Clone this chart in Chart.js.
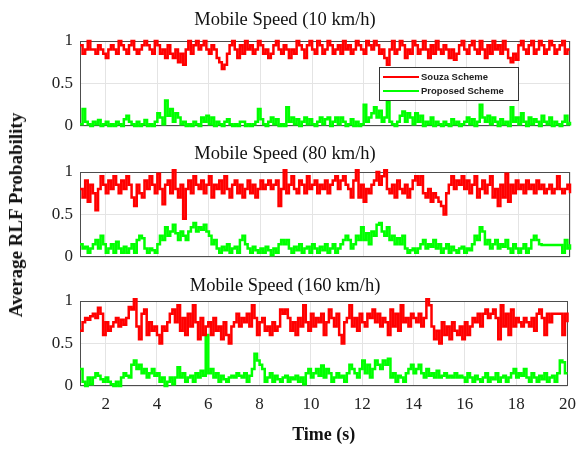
<!DOCTYPE html>
<html>
<head>
<meta charset="utf-8">
<script src="https://cdn.jsdelivr.net/npm/chart.js@4.4.1/dist/chart.umd.min.js"></script>
<style>
  body { margin: 0; background: #fff; }
  #wrap { position: relative; width: 584px; height: 449px; overflow: hidden; }
  #wrap canvas { position: absolute; left: 0; }
  #ylabel {
    position: absolute; left: 16px; top: 215px;
    transform: translate(-50%, -50%) rotate(-90deg);
    font: bold 19px "Liberation Serif", "Times New Roman", serif;
    color: #111; white-space: nowrap;
  }
</style>
</head>
<body>
<div id="wrap">
  <canvas id="p1" width="584" height="146" style="top:0px"></canvas>
  <canvas id="p2" width="584" height="147" style="top:130px"></canvas>
  <canvas id="p3" width="584" height="187" style="top:262px"></canvas>
  <div id="ylabel">Average RLF Probability</div>
</div>
<script>
// time axis (s)
const time = [
  1,1.1,1.2,1.3,1.4,1.5,1.6,1.7,1.8,1.9,
  2,2.1,2.2,2.3,2.4,2.5,2.6,2.7,2.8,2.9,
  3,3.1,3.2,3.3,3.4,3.5,3.6,3.7,3.8,3.9,
  4,4.1,4.2,4.3,4.4,4.5,4.6,4.7,4.8,4.9,
  5,5.1,5.2,5.3,5.4,5.5,5.6,5.7,5.8,5.9,
  6,6.1,6.2,6.3,6.4,6.5,6.6,6.7,6.8,6.9,
  7,7.1,7.2,7.3,7.4,7.5,7.6,7.7,7.8,7.9,
  8,8.1,8.2,8.3,8.4,8.5,8.6,8.7,8.8,8.9,
  9,9.1,9.2,9.3,9.4,9.5,9.6,9.7,9.8,9.9,
  10,10.1,10.2,10.3,10.4,10.5,10.6,10.7,10.8,10.9,
  11,11.1,11.2,11.3,11.4,11.5,11.6,11.7,11.8,11.9,
  12,12.1,12.2,12.3,12.4,12.5,12.6,12.7,12.8,12.9,
  13,13.1,13.2,13.3,13.4,13.5,13.6,13.7,13.8,13.9,
  14,14.1,14.2,14.3,14.4,14.5,14.6,14.7,14.8,14.9,
  15,15.1,15.2,15.3,15.4,15.5,15.6,15.7,15.8,15.9,
  16,16.1,16.2,16.3,16.4,16.5,16.6,16.7,16.8,16.9,
  17,17.1,17.2,17.3,17.4,17.5,17.6,17.7,17.8,17.9,
  18,18.1,18.2,18.3,18.4,18.5,18.6,18.7,18.8,18.9,
  19,19.1,19.2,19.3,19.4,19.5,19.6,19.7,19.8,19.9,
  20
];

const xTicks = [2, 4, 6, 8, 10, 12, 14, 16, 18, 20];
const yTicks = [0, 0.5, 1];
const seriesNames = ['Souza Scheme', 'Proposed Scheme'];
const panelTitles = ['Mobile Speed (10 km/h)', 'Mobile Speed (80 km/h)', 'Mobile Speed (160 km/h)'];

// 10 km/h
const souza10 = [
  0.95,0.85,0.9,1.0,0.9,0.9,0.85,0.95,0.9,0.85,
  0.8,0.9,0.95,0.9,0.85,1.0,0.95,0.9,0.85,0.95,
  1.0,0.9,0.85,0.9,0.95,1.0,0.95,0.9,0.85,1.0,
  0.95,0.85,0.9,0.8,0.95,0.85,0.8,0.9,0.75,0.85,
  0.72,0.9,1.0,0.85,0.95,1.0,0.9,0.95,1.0,0.9,
  0.85,0.95,0.9,0.8,0.75,0.67,0.72,0.85,0.95,1.0,
  0.9,0.8,0.95,0.85,1.0,0.9,0.95,0.85,0.9,1.0,
  0.95,0.85,0.9,0.8,0.85,0.95,1.0,0.9,0.85,0.95,
  0.9,0.8,0.9,0.85,1.0,0.95,0.9,0.8,0.95,1.0,
  0.9,0.85,1.0,0.95,0.85,0.9,1.0,0.95,0.85,0.9,
  0.95,0.85,1.0,0.9,0.95,0.85,0.9,1.0,0.95,0.9,
  0.85,1.0,0.95,0.9,1.0,0.95,0.85,0.9,0.8,0.72,
  0.9,1.0,0.85,0.9,1.0,0.95,0.8,0.9,0.85,1.0,
  0.95,0.85,0.9,1.0,0.9,0.8,0.95,0.85,1.0,0.9,
  0.85,0.95,0.9,0.8,0.9,0.78,0.85,0.95,1.0,0.9,
  0.85,0.95,1.0,0.9,0.85,1.0,0.9,0.8,0.95,0.85,
  1.0,0.9,0.95,0.85,1.0,0.9,0.8,0.75,0.85,0.78,
  0.95,1.0,0.9,0.85,0.95,1.0,0.85,0.9,1.0,0.95,
  0.85,0.9,1.0,0.95,0.85,0.9,0.95,1.0,0.85,0.9,
  0.9
];
const proposed10 = [
  0.02,0.2,0.05,0.02,0.0,0.05,0.02,0.07,0.0,0.02,
  0.05,0.0,0.02,0.0,0.05,0.02,0.0,0.08,0.12,0.05,
  0.02,0.0,0.05,0.0,0.02,0.07,0.0,0.02,0.0,0.05,
  0.15,0.1,0.02,0.3,0.12,0.2,0.05,0.15,0.1,0.02,
  0.05,0.0,0.02,0.0,0.05,0.02,0.0,0.1,0.05,0.12,
  0.02,0.1,0.0,0.05,0.02,0.0,0.05,0.08,0.02,0.0,
  0.02,0.0,0.05,0.05,0.0,0.02,0.0,0.02,0.05,0.2,
  0.08,0.02,0.0,0.05,0.1,0.02,0.08,0.0,0.02,0.0,
  0.22,0.05,0.1,0.02,0.08,0.0,0.05,0.1,0.02,0.08,
  0.02,0.0,0.05,0.1,0.02,0.08,0.1,0.0,0.05,0.1,
  0.02,0.1,0.05,0.0,0.02,0.08,0.0,0.05,0.0,0.02,
  0.25,0.05,0.1,0.15,0.22,0.1,0.18,0.05,0.1,0.28,
  0.05,0.02,0.0,0.05,0.12,0.17,0.05,0.15,0.1,0.02,
  0.15,0.05,0.12,0.0,0.05,0.02,0.1,0.0,0.05,0.02,
  0.0,0.05,0.02,0.0,0.08,0.02,0.05,0.0,0.02,0.05,
  0.1,0.02,0.08,0.0,0.05,0.25,0.1,0.05,0.12,0.02,
  0.1,0.05,0.0,0.08,0.02,0.05,0.0,0.22,0.05,0.1,
  0.02,0.15,0.05,0.0,0.1,0.02,0.08,0.05,0.0,0.12,
  0.05,0.02,0.1,0.0,0.05,0.02,0.0,0.05,0.12,0.02,
  0.05
];

// 80 km/h
const souza80 = [
  0.8,0.7,0.9,0.65,0.85,0.75,0.55,0.8,0.95,0.85,
  0.75,0.9,0.8,0.95,0.85,0.75,0.9,0.8,0.95,0.85,
  0.7,0.6,0.85,0.75,0.7,0.9,0.8,0.95,0.85,0.75,
  0.98,0.8,0.62,0.85,0.9,0.75,1.02,0.8,0.7,0.85,
  0.45,0.8,0.9,0.75,0.95,0.85,0.8,0.9,0.75,0.85,
  0.95,0.7,0.85,0.8,0.9,0.75,0.95,0.8,0.7,0.85,
  0.9,0.75,0.85,0.7,0.8,0.9,0.75,0.85,0.7,0.8,
  0.9,0.8,0.85,0.9,0.8,0.85,0.9,0.6,0.8,1.02,
  0.75,0.85,0.95,0.8,0.75,0.9,0.85,0.75,0.95,0.8,
  0.85,0.9,0.75,0.85,0.8,0.9,0.75,0.85,0.9,0.95,
  0.8,0.9,0.95,0.85,0.8,0.7,0.9,1.02,0.7,0.85,
  0.65,0.8,0.75,0.85,0.9,1.0,0.85,0.95,1.02,0.8,
  0.75,0.85,0.7,0.9,0.8,0.75,0.85,0.7,0.8,0.9,
  0.95,0.85,0.95,0.75,0.7,0.8,0.65,0.75,0.7,0.65,
  0.6,0.5,0.75,0.85,0.95,0.8,0.9,0.85,0.95,0.8,
  0.9,0.75,0.85,0.95,0.7,0.8,0.9,0.75,0.85,0.95,
  0.7,0.8,0.6,0.85,0.7,0.98,0.65,0.85,0.75,0.9,
  0.8,0.85,0.75,0.9,0.8,0.85,0.75,0.9,0.8,0.85,
  0.75,0.8,0.85,0.75,0.8,0.95,0.8,0.75,0.8,0.85,
  0.75
];
const proposed80 = [
  0.15,0.1,0.12,0.05,0.1,0.15,0.2,0.1,0.25,0.15,
  0.05,0.1,0.15,0.05,0.18,0.1,0.05,0.12,0.05,0.1,
  0.15,0.05,0.2,0.25,0.22,0.1,0.05,0.1,0.08,0.05,
  0.15,0.25,0.2,0.35,0.25,0.3,0.38,0.28,0.2,0.3,
  0.25,0.2,0.3,0.35,0.4,0.3,0.35,0.32,0.38,0.3,
  0.25,0.15,0.2,0.1,0.05,0.12,0.08,0.15,0.05,0.1,
  0.12,0.05,0.2,0.25,0.15,0.1,0.05,0.12,0.08,0.05,
  0.1,0.05,0.12,0.08,0.02,0.1,0.05,0.15,0.2,0.15,
  0.2,0.1,0.05,0.12,0.08,0.15,0.05,0.1,0.12,0.05,
  0.15,0.1,0.05,0.12,0.08,0.15,0.05,0.1,0.15,0.05,
  0.1,0.15,0.2,0.25,0.2,0.1,0.15,0.25,0.2,0.35,
  0.2,0.28,0.15,0.3,0.25,0.38,0.4,0.3,0.25,0.35,
  0.2,0.25,0.15,0.22,0.15,0.25,0.1,0.05,0.08,0.1,
  0.05,0.1,0.15,0.2,0.1,0.15,0.12,0.2,0.1,0.15,
  0.05,0.1,0.15,0.05,0.12,0.08,0.05,0.1,0.12,0.05,
  0.1,0.08,0.15,0.25,0.2,0.35,0.3,0.15,0.2,0.1,
  0.15,0.2,0.1,0.15,0.12,0.2,0.1,0.05,0.15,0.1,
  0.05,0.1,0.15,0.05,0.1,0.2,0.25,0.2,0.15,0.14,
  0.14,0.14,0.14,0.14,0.14,0.14,0.14,0.05,0.2,0.1,
  0.15
];

// 160 km/h
const souza160 = [
  0.65,0.75,0.8,0.78,0.82,0.85,0.8,0.92,0.85,0.6,
  0.75,0.65,0.7,0.75,0.8,0.7,0.78,0.72,0.8,0.93,
  0.9,1.03,0.7,0.55,0.85,0.9,0.6,0.75,0.65,0.7,
  0.6,0.5,0.7,0.65,0.75,0.85,0.9,0.75,0.95,0.65,
  0.8,0.6,0.85,0.7,0.95,0.75,0.55,0.8,0.6,0.7,
  0.75,0.6,0.8,0.65,0.7,0.55,0.75,0.6,0.5,0.7,
  0.75,0.85,0.7,0.8,0.75,0.85,0.7,0.95,0.8,0.6,
  0.75,0.8,0.65,0.7,0.6,0.75,0.65,0.7,0.9,0.85,
  0.9,0.8,0.65,0.75,0.6,0.8,0.7,0.95,0.75,0.65,
  0.85,0.7,0.8,0.75,0.85,0.6,0.75,0.9,0.8,0.7,
  0.85,0.6,0.5,0.75,0.8,0.95,0.7,0.8,0.65,0.85,
  0.75,0.7,0.85,0.8,0.9,0.75,0.85,0.7,0.8,0.75,
  0.6,0.9,0.7,0.85,0.65,0.95,0.75,0.8,0.7,0.85,
  0.8,0.75,0.85,0.7,0.8,1.03,0.95,0.7,0.55,0.65,
  0.5,0.75,0.6,0.7,0.55,0.75,0.65,0.6,0.7,0.55,
  0.75,0.6,0.7,0.8,0.75,0.85,0.7,0.85,0.9,0.8,
  0.85,0.9,0.8,0.55,0.95,0.7,0.85,0.6,0.9,0.7,
  0.8,0.75,0.7,0.8,0.75,0.7,0.8,0.65,0.85,0.9,
  0.8,0.6,0.85,0.75,0.85,0.85,0.85,0.85,0.6,0.85,
  0.75
];
const proposed160 = [
  0.2,0.05,0.0,0.1,0.02,0.1,0.15,0.12,0.08,0.05,
  0.1,0.05,0.02,0.0,0.05,0.0,0.1,0.15,0.12,0.1,
  0.25,0.3,0.2,0.25,0.15,0.2,0.1,0.15,0.2,0.12,
  0.15,0.05,0.1,0.0,0.05,0.1,0.02,0.1,0.22,0.1,
  0.15,0.05,0.1,0.12,0.05,0.15,0.1,0.18,0.12,0.6,
  0.15,0.2,0.1,0.15,0.05,0.12,0.08,0.05,0.1,0.12,
  0.1,0.15,0.12,0.1,0.15,0.05,0.12,0.2,0.38,0.3,
  0.25,0.2,0.05,0.1,0.15,0.05,0.12,0.08,0.05,0.1,
  0.12,0.05,0.1,0.08,0.12,0.05,0.1,0.02,0.15,0.2,
  0.1,0.15,0.2,0.12,0.24,0.1,0.2,0.15,0.05,0.1,
  0.15,0.1,0.12,0.05,0.15,0.25,0.2,0.15,0.1,0.2,
  0.3,0.15,0.25,0.1,0.2,0.3,0.25,0.2,0.3,0.25,
  0.32,0.1,0.15,0.05,0.12,0.1,0.05,0.15,0.2,0.25,
  0.15,0.2,0.25,0.15,0.1,0.2,0.12,0.15,0.1,0.18,
  0.1,0.12,0.15,0.1,0.12,0.1,0.15,0.1,0.12,0.1,
  0.05,0.15,0.1,0.05,0.12,0.08,0.05,0.1,0.15,0.05,
  0.1,0.08,0.15,0.05,0.1,0.12,0.05,0.1,0.15,0.2,
  0.1,0.15,0.12,0.2,0.1,0.05,0.15,0.1,0.05,0.12,
  0.08,0.15,0.05,0.1,0.12,0.05,0.15,0.3,0.28,0.15,
  0.15
];

const serif = '"Liberation Serif", "Times New Roman", serif';
const gridColor = '#e4e4e4';

// axes box drawn under the lines, like the matlab frame
const frameBox = {
  id: 'frameBox',
  beforeDatasetsDraw(chart) {
    const { ctx, chartArea: a } = chart;
    ctx.save();
    ctx.strokeStyle = '#4d4d4d';
    ctx.lineWidth = 1;
    ctx.strokeRect(Math.round(a.left) + 0.5, Math.round(a.top) + 0.5,
                   Math.round(a.width) - 1, Math.round(a.height) - 1);
    ctx.restore();
  }
};

// legend sits inside the first panel
const innerLegend = {
  id: 'innerLegend',
  afterDatasetsDraw(chart) {
    const { ctx, chartArea: a } = chart;
    const w = 139, h = 33;
    const x = Math.round(a.right - 52 - w), y = Math.round(a.top + 26);
    ctx.save();
    ctx.fillStyle = '#fff';
    ctx.fillRect(x, y, w, h);
    ctx.strokeStyle = '#333';
    ctx.lineWidth = 1;
    ctx.strokeRect(x + 0.5, y + 0.5, w, h);
    chart.data.datasets.forEach((ds, i) => {
      const ly = y + 10 + i * 14;
      ctx.strokeStyle = ds.borderColor;
      ctx.lineWidth = 2;
      ctx.beginPath();
      ctx.moveTo(x + 4, ly);
      ctx.lineTo(x + 40, ly);
      ctx.stroke();
      ctx.fillStyle = '#222';
      ctx.font = 'bold 9.5px "Liberation Sans", Arial, sans-serif';
      ctx.textBaseline = 'middle';
      ctx.fillText(ds.label, x + 42, ly + 0.5);
    });
    ctx.restore();
  }
};

function makePanel(id, title, souza, proposed, cfg) {
  const toPts = vals => vals.map((v, i) => ({ x: time[i], y: v }));
  const plugins = [frameBox];
  if (cfg.legend) plugins.push(innerLegend);

  return new Chart(document.getElementById(id), {
    type: 'line',
    data: {
      datasets: [
        { label: seriesNames[0], data: toPts(souza), borderColor: '#ff0000' },
        { label: seriesNames[1], data: toPts(proposed), borderColor: '#00ff00' }
      ].map(d => Object.assign(d, {
        borderWidth: 2.5, stepped: true, pointRadius: 0, fill: false, clip: 3
      }))
    },
    options: {
      responsive: false,
      animation: false,
      devicePixelRatio: 1,
      layout: { padding: { left: 0, right: 14, top: 0, bottom: 0 } },
      scales: {
        x: {
          type: 'linear',
          min: 1,
          max: 20,
          afterBuildTicks: s => { s.ticks = xTicks.map(v => ({ value: v })); },
          afterFit: s => { s.height = cfg.xHeight; },
          grid: { color: gridColor, drawTicks: false },
          border: { display: false },
          ticks: {
            display: cfg.showX,
            padding: 8,
            color: '#222',
            font: { family: serif, size: 17 },
            maxRotation: 0
          },
          title: {
            display: cfg.showX,
            text: 'Time (s)',
            color: '#111',
            font: { family: serif, size: 18, weight: 'bold' },
            padding: { top: 0, bottom: 3 }
          }
        },
        y: {
          min: 0,
          max: 1,
          afterBuildTicks: s => { s.ticks = yTicks.map(v => ({ value: v })); },
          afterFit: s => { s.width = 80; },
          grid: { color: gridColor, drawTicks: false },
          border: { display: false },
          ticks: {
            padding: 7,
            color: '#222',
            font: { family: serif, size: 17 },
            callback: v => String(v)
          }
        }
      },
      plugins: {
        legend: { display: false },
        tooltip: { enabled: false },
        title: {
          display: true,
          text: title,
          color: '#111',
          font: { family: serif, size: 18.5, weight: 'normal' },
          padding: { top: cfg.titleTop, bottom: cfg.titleBottom }
        }
      }
    },
    plugins: plugins
  });
}

// empty x axes still hold room for half of the "0" label
makePanel('p1', panelTitles[0], souza10, proposed10,
  { legend: true, showX: false, xHeight: 20, titleTop: 9, titleBottom: 9.8 });
makePanel('p2', panelTitles[1], souza80, proposed80,
  { legend: false, showX: false, xHeight: 20, titleTop: 13.4, titleBottom: 6.4 });
makePanel('p3', panelTitles[2], souza160, proposed160,
  { legend: false, showX: true, xHeight: 63, titleTop: 13.4, titleBottom: 3.4 });
</script>
</body>
</html>
